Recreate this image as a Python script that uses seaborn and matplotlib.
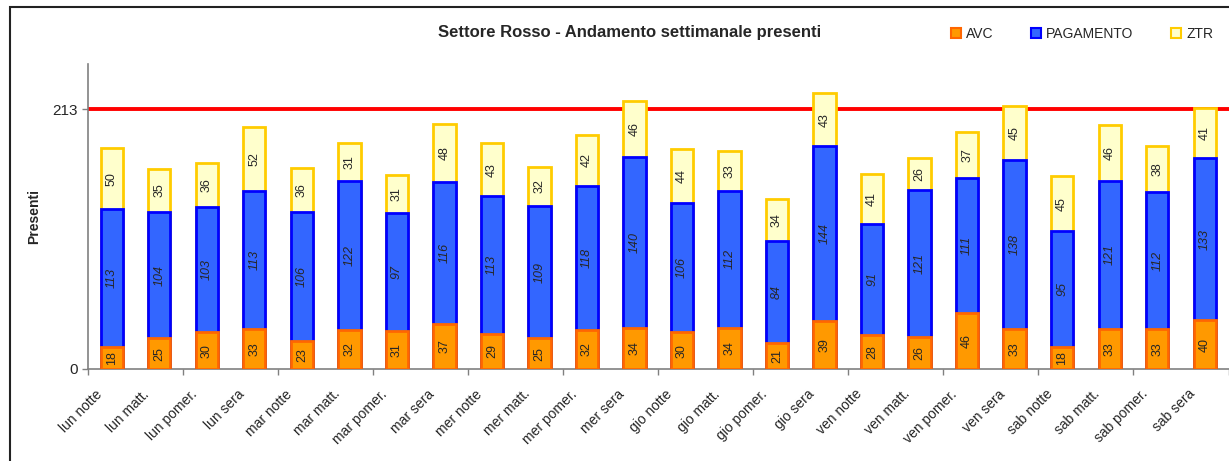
import matplotlib
matplotlib.use("Agg")
import matplotlib.pyplot as plt
import seaborn as sns
import numpy as np
import pandas as pd
from matplotlib.lines import Line2D
from matplotlib.patches import Rectangle
from matplotlib.transforms import ScaledTranslation

fasce = ['lun notte', 'lun matt.', 'lun pomer.', 'lun sera',
         'mar notte', 'mar matt.', 'mar pomer.', 'mar sera',
         'mer notte', 'mer matt.', 'mer pomer.', 'mer sera',
         'gio notte', 'gio matt.', 'gio pomer.', 'gio sera',
         'ven notte', 'ven matt.', 'ven pomer.', 'ven sera',
         'sab notte', 'sab matt.', 'sab pomer.', 'sab sera']
avc = [18, 25, 30, 33, 23, 32, 31, 37, 29, 25, 32, 34,
       30, 34, 21, 39, 28, 26, 46, 33, 18, 33, 33, 40]
pagamento = [113, 104, 103, 113, 106, 122, 97, 116, 113, 109, 118, 140,
             106, 112, 84, 144, 91, 121, 111, 138, 95, 121, 112, 133]
ztr = [50, 35, 36, 52, 36, 31, 31, 48, 43, 32, 42, 46,
       44, 33, 34, 43, 41, 26, 37, 45, 45, 46, 38, 41]
soglia = 213

df = pd.DataFrame({'fascia': fasce, 'AVC': avc, 'PAGAMENTO': pagamento, 'ZTR': ztr})
df['liv1'] = df['AVC']
df['liv2'] = df['AVC'] + df['PAGAMENTO']
df['liv3'] = df['liv2'] + df['ZTR']

sns.set_style('white')
plt.rcParams['font.family'] = ['Liberation Sans', 'DejaVu Sans']

fig = plt.figure(figsize=(12.29, 4.61), dpi=100)
ax = fig.add_axes([0.0716, 0.1996, 0.928, 0.6614])

ax.axhline(soglia, color='#FF0000', lw=2.8, zorder=1)

# stacked bars drawn back to front
sns.barplot(data=df, x='fascia', y='liv3', color='#FFFFCC', edgecolor='#FFCC00',
            linewidth=2, width=0.47, saturation=1, ax=ax, zorder=2)
sns.barplot(data=df, x='fascia', y='liv2', color='#3366FF', edgecolor='#0000FF',
            linewidth=2, width=0.47, saturation=1, ax=ax, zorder=3)
sns.barplot(data=df, x='fascia', y='liv1', color='#FF9900', edgecolor='#FF6600',
            linewidth=2, width=0.47, saturation=1, ax=ax, zorder=4)

for i, r in df.iterrows():
    ax.text(i, r['AVC'] / 2, str(r['AVC']), rotation=90, ha='center', va='center',
            fontsize=9, zorder=5)
    ax.text(i, r['AVC'] + r['PAGAMENTO'] / 2, str(r['PAGAMENTO']), rotation=90,
            ha='center', va='center', fontsize=9, style='italic', zorder=5)
    ax.text(i, r['liv2'] + r['ZTR'] / 2, str(r['ZTR']), rotation=90,
            ha='center', va='center', fontsize=9, zorder=5)

ax.set_ylim(0, 250)
ax.set_xlim(-0.5, len(fasce) - 0.5)
ax.set_yticks([0, soglia])
ax.set_yticklabels(['0', str(soglia)], fontsize=11)
ax.set_xticks(range(len(fasce)))
ax.set_xticklabels(fasce, rotation=45, ha='right', rotation_mode='anchor', fontsize=10)
ax.set_xticks(np.arange(-0.5, len(fasce), 2), minor=True)
ax.tick_params(axis='x', which='major', length=0, pad=13)
ax.tick_params(axis='x', which='minor', bottom=True, length=4, width=1,
               color='#808080', direction='out')
ax.tick_params(axis='y', length=4, width=1, color='#808080', direction='out', left=True)
shift = ScaledTranslation(-0.17, 0, fig.dpi_scale_trans)
for lab in ax.get_xticklabels():
    lab.set_transform(lab.get_transform() + shift)
ax.set_xlabel('')
ax.set_ylabel('Presenti', fontsize=10, fontweight='bold')
ax.yaxis.set_label_coords(-0.041, 0.5)
for s in ['top', 'right']:
    ax.spines[s].set_visible(False)
for s in ['left', 'bottom']:
    ax.spines[s].set_color('#808080')
    ax.spines[s].set_linewidth(1.2)

fig.text(0.512, 0.93, 'Settore Rosso - Andamento settimanale presenti',
         ha='center', va='center', fontsize=12, fontweight='bold')

handles = [Line2D([], [], marker='s', ls='', markersize=7, markerfacecolor=fc,
                  markeredgecolor=ec, markeredgewidth=1.5)
           for fc, ec in [('#FF9900', '#FF6600'), ('#3366FF', '#0000FF'), ('#FFFFCC', '#FFCC00')]]
fig.legend(handles, ['AVC', 'PAGAMENTO', 'ZTR'], loc='center left', ncol=3,
           bbox_to_anchor=(0.762, 0.926), frameon=False, fontsize=10,
           handletextpad=0.2, columnspacing=2.6, handlelength=1.0)

fig.patches.append(Rectangle((10 / 1229, -0.1), 1.2, 1.1 - 7 / 461, transform=fig.transFigure,
                             fill=False, edgecolor='#222222', lw=1.5))

fig.savefig('out.png', dpi=100)
